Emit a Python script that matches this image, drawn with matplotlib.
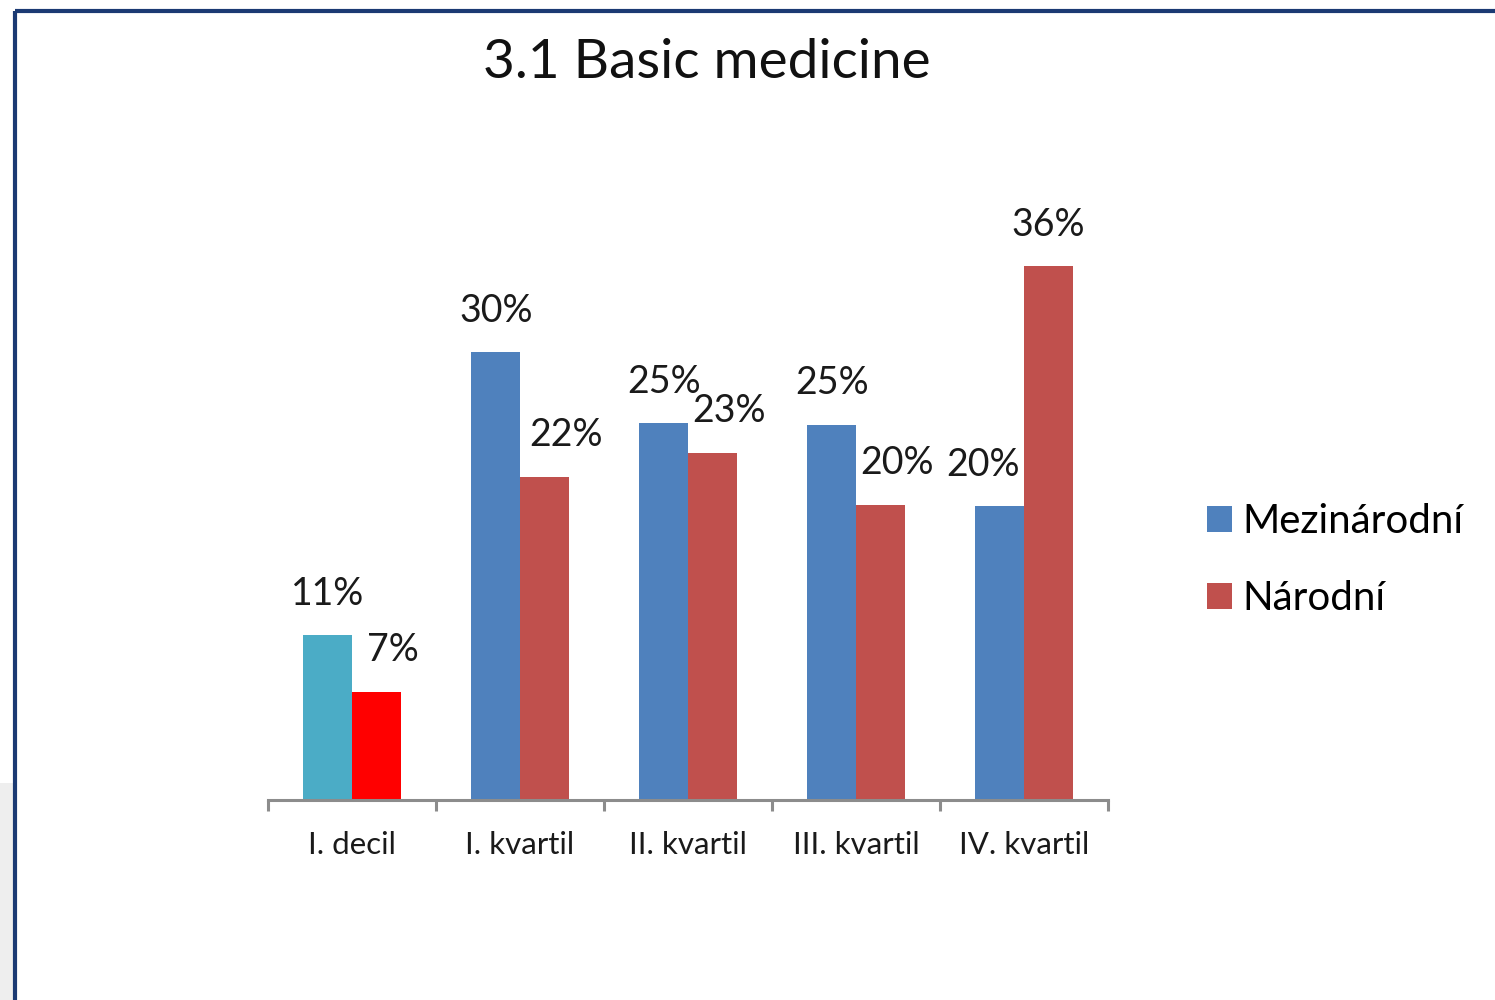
import matplotlib
matplotlib.use("Agg")
import matplotlib.pyplot as plt
from matplotlib.patches import Rectangle, Patch
from matplotlib.lines import Line2D
import numpy as np

categories = ["I. decil", "I. kvartil", "II. kvartil", "III. kvartil", "IV. kvartil"]
mezinarodni = [11.1, 30.2, 25.4, 25.3, 19.8]
narodni = [7.3, 21.8, 23.4, 19.9, 36.0]
series_names = ["Mezinárodní", "Národní"]
title = "3.1 Basic medicine"

blue = "#4F81BD"
red = "#C0504D"
first_blue = "#4BACC6"
first_red = "#FF0000"

plt.rcParams['font.family'] = ['Lato', 'DejaVu Sans']

W, H = 1495, 1000
fig = plt.figure(figsize=(W / 100, H / 100), dpi=100)
fig.patch.set_facecolor("white")

# frame decorations
fig.add_artist(Rectangle((0, 0), 14 / W, 217 / H, transform=fig.transFigure,
                         facecolor="#EEEEEE", edgecolor="none", zorder=0))
fig.add_artist(Line2D([15 / W, 1.0], [1 - 11 / H, 1 - 11 / H], transform=fig.transFigure,
                      color="#1B3A73", lw=3, solid_capstyle="butt"))
fig.add_artist(Line2D([15 / W, 15 / W], [0, 1 - 11 / H], transform=fig.transFigure,
                      color="#1B3A73", lw=3, solid_capstyle="butt"))

ymax = 40
px_per_unit = 14.83
ax_left, ax_right = 268, 1108
base = 800
top = base - ymax * px_per_unit
ax = fig.add_axes([ax_left / W, 1 - base / H, (ax_right - ax_left) / W, (base - top) / H])
ax.set_xlim(-0.5, len(categories) - 0.5)
ax.set_ylim(0, ymax)

x = np.arange(len(categories))
bw = 0.289
c1 = [first_blue] + [blue] * (len(categories) - 1)
c2 = [first_red] + [red] * (len(categories) - 1)
ax.bar(x - bw / 2, mezinarodni, bw, color=c1, zorder=2)
ax.bar(x + bw / 2, narodni, bw, color=c2, zorder=2)

# label offsets (points) mimicking Excel placement
off1 = [0, 0, 0, 0, -12]
off2 = [12, 16, 12, 12, 0]
for i in range(len(categories)):
    ax.annotate(f"{round(mezinarodni[i])}%", (x[i] - bw / 2, mezinarodni[i]),
                xytext=(off1[i], 17), textcoords="offset points",
                ha="center", va="bottom", fontsize=27, color="#1a1a1a")
    ax.annotate(f"{round(narodni[i])}%", (x[i] + bw / 2, narodni[i]),
                xytext=(off2[i], 17), textcoords="offset points",
                ha="center", va="bottom", fontsize=27, color="#1a1a1a")

for s in ["top", "right", "left"]:
    ax.spines[s].set_visible(False)
ax.spines["bottom"].set_color("#8C8C8C")
ax.spines["bottom"].set_linewidth(2.2)
ax.set_yticks([])
ax.set_xticks(np.arange(len(categories) + 1) - 0.5, minor=False)
ax.set_xticklabels([])
ax.tick_params(axis="x", which="major", length=8, width=2.2, color="#8C8C8C", direction="out")
ax.set_xticks(x, minor=True)
ax.set_xticklabels(categories, minor=True, fontsize=22.5, color="#1a1a1a")
ax.tick_params(axis="x", which="minor", length=0, pad=22)

fig.text(707 / W, 1 - 63 / H, title, ha="center", va="center", fontsize=39.5, color="#111111")

handles = [Patch(facecolor=blue), Patch(facecolor=red)]
fig.legend(handles, series_names, loc="center left", bbox_to_anchor=(1191 / W, 1 - 560 / H),
           frameon=False, fontsize=29, handlelength=0.62, handleheight=0.62,
           handletextpad=0.25, labelspacing=1.0, borderaxespad=0)

fig.savefig("out.png", dpi=100, facecolor="white")
